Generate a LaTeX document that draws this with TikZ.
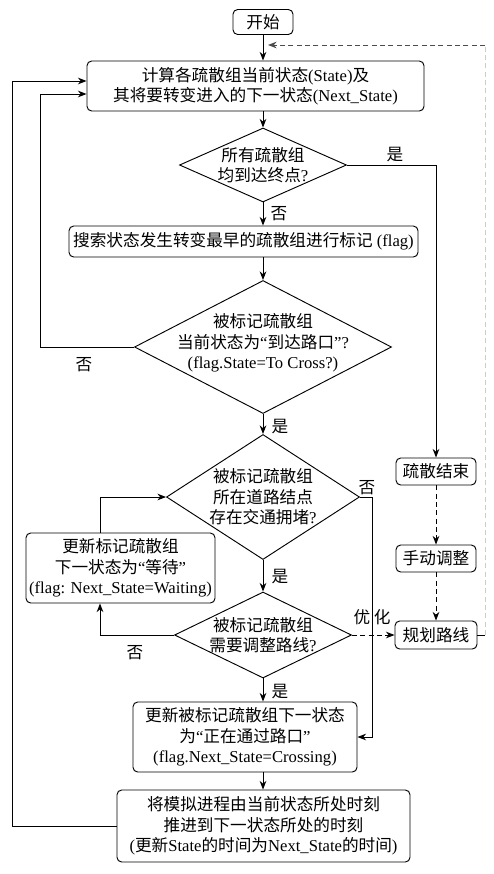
\documentclass[tikz,border=0pt]{standalone}
\usepackage{fontspec}
\setmainfont{Liberation Serif}
\newfontfamily\cjk{Noto Sans CJK SC}
\usepackage{tikz}
\usetikzlibrary{positioning,shapes.geometric,arrows.meta}
\newcommand{\zh}[1]{{\cjk #1}}

\tikzset{
  blk/.style 2 args={draw, rounded corners=4pt, align=center, inner sep=1pt,
                     minimum width=#1*0.3mm, minimum height=#2*0.3mm},
  chk/.style 2 args={draw, diamond, inner sep=0pt,
                     minimum width=#1*0.3mm, minimum height=#2*0.3mm},
  ans/.style={inner sep=0pt},
  flow/.style={-{Stealth[length=2.6mm,width=2mm]}},
  dsh/.style={dash pattern=on 1.5mm off 1mm}
}

\begin{document}
\begin{tikzpicture}[x=0.3mm, y=-0.3mm, line width=0.8pt,
                    font=\fontsize{14.2pt}{17.5pt}\selectfont]
      \useasboundingbox (0,0) rectangle (494,874);
      % main column
      \draw (263, 22) node (start) [blk={60}{25}] {\zh{开始}}
            (255.5, 86) node (calc) [blk={337}{50}] {\zh{计算各疏散组当前状态}(State)\zh{及}\\
                                                    \zh{其将要转变进入的下一状态}(Next\_State)}
            (243.5, 241.5) node (mark) [blk={349}{31}] {\zh{搜索状态发生转变最早的疏散组进行标记} (flag)}
            (120.5, 568) node (wait) [blk={189}{70}] {\zh{更新标记疏散组}\\
                                                    \zh{下一状态为}“\zh{等待}”\\
                                                    (flag: Next\_State=Waiting)}
            (245, 737) node (cross) [blk={224}{70}] {\zh{更新被标记疏散组下一状态}\\
                                                    \zh{为}“\zh{正在通过路口}”\\
                                                    (flag.Next\_State=Crossing)}
            (263.5, 826) node (advance) [blk={293}{72}] {\zh{将模拟进程由当前状态所处时刻}\\
                                                    \zh{推进到下一状态所处的时刻}\\
                                                    (\zh{更新}State\zh{的时间为}Next\_State\zh{的时间})};
      \draw (263, 165) node (allend) [chk={167}{74}] {}
            (263, 347) node (tocross) [chk={257}{133}] {}
            (263, 497) node (jam) [chk={193}{125}] {}
            (263, 635) node (reroute) [chk={177}{86}] {};
      \node (allendt) [align=center] at (allend) {\zh{所有疏散组}\\\zh{均到达终点}?};
      \node (tocrosst) [align=center] at (263, 343) {\zh{被标记疏散组}\\
                                                    \zh{当前状态为}“\zh{到达路口}”?\\
                                                    (flag.State=To Cross?)};
      \node (jamt) [align=center] at (jam) {\zh{被标记疏散组}\\\zh{所在道路结点}\\\zh{存在交通拥堵}?};
      \node (reroutet) [align=center] at (reroute) {\zh{被标记疏散组}\\\zh{需要调整路线}?};
      % side column
      \draw (436, 471.5) node (done) [blk={80}{27}] {\zh{疏散结束}}
            (436, 558.5) node (manual) [blk={80}{27}] {\zh{手动调整}}
            (436, 635) node (plan) [blk={82}{28}] {\zh{规划路线}};
      \coordinate (lp1) at (40, 94);
      \coordinate (lp2) at (12, 81);
      \coordinate (nj) at (372, 497);
      \coordinate (wx) at (100, 0);
      \coordinate (rt) at (485, 45);
      \coordinate (tip) at (268, 45);
      \draw[flow] (start) -- (start |- calc.north);
      \draw[flow] (calc.south -| allend) -- (allend);
      \draw[flow] (allend) -- (allend |- mark.north);
      \draw[flow] (mark.south -| tocross) -- (tocross);
      \draw[flow] (tocross) -- (jam);
      \draw[flow] (jam) -- (reroute);
      \draw[flow] (reroute) -- (reroute |- cross.north);
      \draw[flow] (cross.south -| reroute) -- (reroute |- advance.north);
      \draw[flow] (allend.east) -| (done);
      \draw[flow] (tocross.west) -| (lp1) -- (lp1 -| calc.west);
      \draw[flow] (advance.west) -| (lp2) -- (lp2 -| calc.west);
      \draw[flow] (jam.east) -- (nj) |- (cross.east);
      \draw[flow] (reroute.west) -| (wx |- wait.south);
      \draw[flow] (wx |- wait.north) |- (jam.west);
      \draw[flow, dsh] (reroute.east) -- (plan.west);
      \draw[flow, dsh] (done) -- (manual);
      \draw[flow, dsh] (manual) -- (plan);
      \draw (plan.east) -- (plan.east -| rt);
      \draw[dsh, black!20] (plan.east -| rt) -- (rt);
      \draw[flow, dsh, black!70] (rt) -- (tip);
      % answers
      \draw (395, 155) node (y1) [ans] {\zh{是}}
            (279, 214) node (n1) [ans] {\zh{否}}
            (84, 365) node (n2) [ans] {\zh{否}}
            (280, 427) node (y2) [ans] {\zh{是}}
            (367, 488) node (n3) [ans] {\zh{否}}
            (280, 577) node (y3) [ans] {\zh{是}}
            (135, 653) node (n4) [ans] {\zh{否}}
            (280, 692) node (y4) [ans] {\zh{是}}
            (372, 617) node (opt) [ans] {\zh{优}\hspace{1.1mm}\zh{化}};
\end{tikzpicture}
\end{document}
